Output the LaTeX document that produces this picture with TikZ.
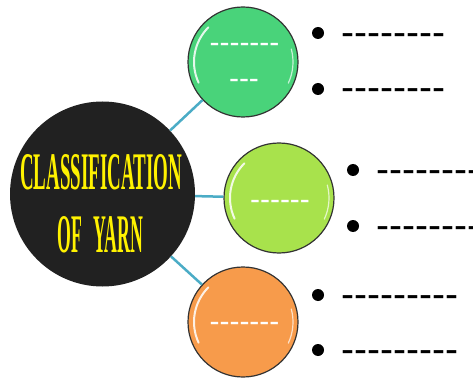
\documentclass[tikz,border=0pt]{standalone}
\usepackage{fontspec}
\setmainfont{Liberation Serif}
\newfontfamily\dashfont{Liberation Sans}
\usepackage{graphicx}

\definecolor{hubdark}{HTML}{212121}
\definecolor{rimgray}{HTML}{333333}
\definecolor{linkblue}{HTML}{4BACC6}
\definecolor{titleyellow}{HTML}{FFF200}
\definecolor{fillgreen}{HTML}{49D37A}
\definecolor{filllime}{HTML}{A8E24C}
\definecolor{fillorange}{HTML}{F79B4B}

% a run of separate hyphens (kept apart so they never join into dashes)
\newcommand\dashrun[1]{\foreach\k in {1,...,#1}{\mbox{-}}}

\tikzset{
  hub/.style={circle, fill=hubdark, minimum size=185pt, inner sep=0pt},
  branch/.style={circle, draw=rimgray, line width=1.2pt, minimum size=110pt, inner sep=0pt},
  link/.style={draw=linkblue, line width=2.5pt},
  dot/.style={circle, fill=black, minimum size=12pt, inner sep=0pt},
  bline/.style={anchor=base west, inner sep=0pt, font=\dashfont\fontsize{39}{39}\selectfont},
  wline/.style={anchor=base, inner sep=0pt, text=white, font=\dashfont\fontsize{30}{30}\selectfont},
  title/.style={inner sep=0pt, text=titleyellow, font=\bfseries},
  gloss/.style={white, line width=2pt, opacity=0.85, line cap=round},
  glossthin/.style={white, line width=1.2pt, opacity=0.7, line cap=round}
}

\begin{document}
\begin{tikzpicture}[x=1pt, y=-1pt]
  \useasboundingbox (0,0) rectangle (473,379);

  % central hub
  \node[hub] (hub) at (102.5,194) {};
  \node[title] (t1) at (101,172) {\resizebox{162pt}{35pt}{CLASSIFICATION}};
  \node[title] (t2) at (100.5,235) {\resizebox{85pt}{36pt}{OF\hspace{0.6em}YARN}};

  % three branch circles
  \node[branch, fill=fillgreen]  (g1) at (243,62)  {};
  \node[branch, fill=filllime]   (g2) at (279,198) {};
  \node[branch, fill=fillorange] (g3) at (243,322) {};

  % glossy rim highlights
  \foreach \c in {g1,g2,g3} {
    \draw[gloss] ([shift={(135:49pt)}]\c.center) arc[start angle=135, end angle=205, radius=49pt];
    \draw[glossthin] ([shift={(-25:50pt)}]\c.center) arc[start angle=-25, end angle=15, radius=50pt];
  }

  % labels inside the branches
  \node[wline] (w1a) at (244.5,53) {\dashrun{7}};
  \node[wline] (w1b) at (244,89)   {\dashrun{3}};
  \node[wline] (w2)  at (280,209)  {\dashrun{6}};
  \node[wline] (w3)  at (244.5,331) {\dashrun{7}};

  % connectors
  \draw[link] (hub) -- (g1);
  \draw[link] (hub) -- (g2);
  \draw[link] (hub) -- (g3);

  % bullet points
  \node[dot] (d1) at (318,33) {};
  \node[dot] (d2) at (318,89) {};
  \node[dot] (d3) at (353,170) {};
  \node[dot] (d4) at (353,226) {};
  \node[dot] (d5) at (318,295) {};
  \node[dot] (d6) at (318,350) {};

  \node[bline] (l1) at (341,45.5)  {\dashrun{8}};
  \node[bline] (l2) at (341,100.5) {\dashrun{8}};
  \node[bline] (l3) at (376,182.5) {\dashrun{8}};
  \node[bline] (l4) at (376,238.5) {\dashrun{8}};
  \node[bline] (l5) at (341,307.5) {\dashrun{9}};
  \node[bline] (l6) at (341,362.5) {\dashrun{9}};
\end{tikzpicture}
\end{document}
